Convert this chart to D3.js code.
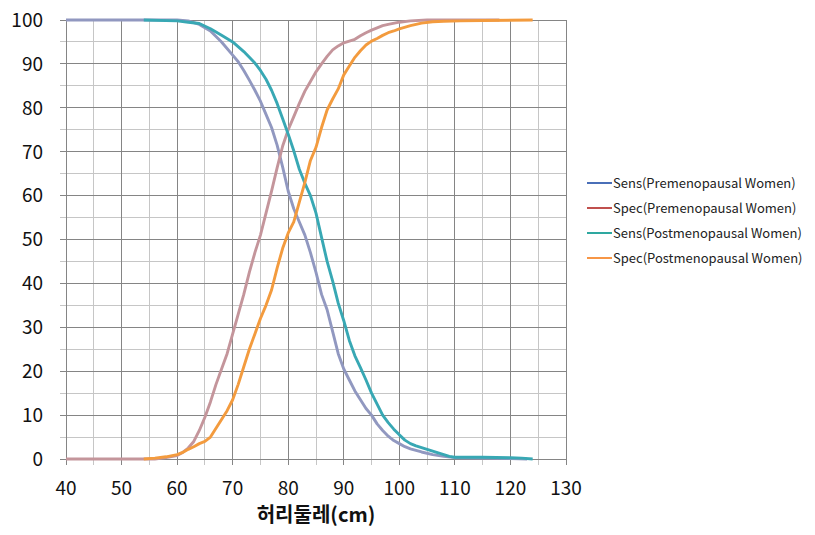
<!DOCTYPE html>
<html><head><meta charset="utf-8">
<script src="https://cdn.jsdelivr.net/npm/d3@7/dist/d3.min.js"></script>
<style>body{margin:0;background:#fff}svg{display:block}</style>
</head><body><svg id="c" width="815" height="535"></svg>
<script>
const xTicks = [40,50,60,70,80,90,100,110,120,130];
const yTicks = [0,10,20,30,40,50,60,70,80,90,100];
const xTitle = "허리둘레(cm)";
const seriesNames = ["Sens(Premenopausal Women)","Spec(Premenopausal Women)","Sens(Postmenopausal Women)","Spec(Postmenopausal Women)"];
const legendColors = ["#4a6fb8","#c0504d","#2ea8a0","#f79646"];
const lineColors = ["#9198c0","#c4959b","#38a8b4","#f39b3e"];

const sensPreX = [40,60,62,64,66,68,70,71,72,73,74,75,76,77,78,79,80,81,82,83,84,85,86,87,88,89,90,91,92,93,94,95,96,97,98,99,100,101,102,104,106,108,110,115,120,123];
const sensPreY = [100,100,99.8,99,97.5,95,92,90.5,88.5,86.3,84,81.5,78.5,75.5,71.5,66.5,61,57,54,51,47,42.5,37.5,34,29,24,20.5,18,15.5,13.5,11.5,10,8,6.5,5.2,4.2,3.5,2.8,2.3,1.6,1,0.6,0.3,0.2,0.1,0];

const specPreX = [40,56,58,60,61,62,63,64,65,66,67,68,69,70,71,72,73,74,75,76,77,78,79,80,81,82,83,84,85,86,87,88,89,90,91,92,93,94,95,96,97,98,100,102,105,118];
const specPreY = [0,0,0.3,0.8,1.5,2.5,4,6.5,9.5,13,17,20.5,24,28.5,33,37.5,42.5,47,51,56,61,66.3,71.3,75,78,81,83.8,86,88.2,90,91.7,93.2,94.1,94.8,95.2,95.6,96.4,97.1,97.7,98.2,98.7,99,99.5,99.8,100,100];

const sensPostX = [54,60,62,64,66,68,70,72,74,75,76,77,78,79,80,81,82,83,84,85,86,87,88,89,90,91,92,93,94,95,96,97,98,99,100,101,102,103,104,105,106,107,108,109,110,115,120,122,124];
const sensPostY = [100,99.8,99.5,99.2,98,96.5,95,92.8,90.2,88.5,86.5,84,81,77.5,74,70.2,66,62.8,60,56,50.5,45,40.5,35.5,31.5,27,23.5,20.8,18,15,12.5,10,8.3,6.8,5.5,4.3,3.5,3,2.6,2.2,1.8,1.4,1,0.6,0.4,0.4,0.3,0.2,0];

const specPostX = [54,56,58,60,61,62,63,64,65,66,67,68,69,70,71,72,73,74,75,76,77,78,79,80,81,82,83,84,85,86,87,88,89,90,91,92,93,94,95,96,97,98,99,100,102,104,106,108,111,115,124];
const specPostY = [0,0.2,0.5,1,1.5,2.2,2.8,3.5,4,5,7,9,11,13.5,17,21,25,28.5,32,35,38.5,43.5,48,51.5,54,58.5,63,68,71,75.5,79.5,82,84.3,87.5,89.5,91.5,93,94.3,95.2,95.8,96.5,97.1,97.5,98,98.7,99.3,99.6,99.7,99.8,99.9,100];

const series = [[sensPreX,sensPreY],[specPreX,specPreY],[sensPostX,sensPostY],[specPostX,specPostY]];

const svg = d3.select("#c");
const L=66,R=566,T=20,B=459;
const x = d3.scaleLinear().domain([40,130]).range([L,R]);
const y = d3.scaleLinear().domain([0,100]).range([B,T]);
const font = "'Noto Sans CJK KR','Noto Sans',sans-serif";

const minorX = d3.range(45,130,10), minorY = d3.range(5,100,10);
const g = svg.append("g");
g.selectAll(".mx").data(minorX).join("line").attr("x1",d=>x(d)).attr("x2",d=>x(d)).attr("y1",T).attr("y2",B+6).attr("stroke","#c6c6c6").attr("stroke-width",1).attr("shape-rendering","crispEdges");
g.selectAll(".my").data(minorY).join("line").attr("y1",d=>y(d)).attr("y2",d=>y(d)).attr("x1",L-6).attr("x2",R).attr("stroke","#c6c6c6").attr("stroke-width",1).attr("shape-rendering","crispEdges");
g.selectAll(".Mx").data(xTicks).join("line").attr("x1",d=>x(d)).attr("x2",d=>x(d)).attr("y1",T).attr("y2",B+6).attr("stroke","#858585").attr("stroke-width",1).attr("shape-rendering","crispEdges");
g.selectAll(".My").data(yTicks).join("line").attr("y1",d=>y(d)).attr("y2",d=>y(d)).attr("x1",L-6).attr("x2",R).attr("stroke","#858585").attr("stroke-width",1).attr("shape-rendering","crispEdges");

svg.selectAll(".yl").data(yTicks).join("text").attr("x",43).attr("y",d=>y(d)).attr("dy","0.36em").attr("text-anchor","end")
  .attr("font-family",font).attr("font-size",19).attr("fill","#111").text(d=>d);
svg.selectAll(".xl").data(xTicks).join("text").attr("x",d=>x(d)).attr("y",488).attr("dy","0.36em").attr("text-anchor","middle")
  .attr("font-family",font).attr("font-size",19).attr("fill","#111").text(d=>d);
svg.append("text").attr("x",316).attr("y",515).attr("dy","0.36em").attr("text-anchor","middle")
  .attr("font-family",font).attr("font-size",20).attr("font-weight","bold").attr("fill","#111").text(xTitle);

const line = d3.line().x(d=>x(d[0])).y(d=>y(d[1]));
series.forEach((s,i)=>{
  const pts = s[0].map((v,j)=>[v,s[1][j]]);
  svg.append("path").datum(pts).attr("d",line).attr("fill","none").attr("stroke",lineColors[i]).attr("stroke-width",2.9).attr("stroke-linejoin","round");
});

const lg = svg.append("g");
seriesNames.forEach((n,i)=>{
  const yy = 183 + i*25;
  lg.append("line").attr("x1",587).attr("x2",612).attr("y1",yy).attr("y2",yy).attr("stroke",legendColors[i]).attr("stroke-width",2);
  lg.append("text").attr("x",613).attr("y",yy).attr("dy","0.35em").attr("font-family",font).attr("font-size",13).attr("fill","#222").text(n);
});
</script></body></html>
